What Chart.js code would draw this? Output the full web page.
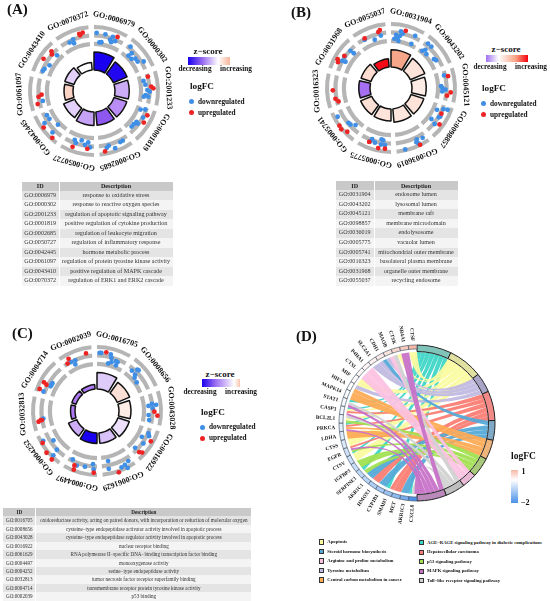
<!DOCTYPE html>
<html>
<head>
<meta charset="utf-8">
<script src="https://cdn.jsdelivr.net/npm/chart.js@4"></script>
<style>
  html, body { margin: 0; padding: 0; background: #fff; }
  body { position: relative; width: 550px; height: 601px; overflow: hidden; font-family: "Liberation Serif", serif; color: #111; }
  canvas { position: absolute; }
  .t { position: absolute; white-space: nowrap; line-height: 1; }
  .bar { position: absolute; }
  .dot { position: absolute; border-radius: 50%; }
  .box { position: absolute; border: 0.7px solid #333; box-sizing: border-box; }
  table { position: absolute; border-collapse: separate; border-spacing: 1px 0; table-layout: fixed; color: #333; }
  td, th { padding: 0; text-align: center; white-space: nowrap; overflow: hidden; font-weight: normal; }
  th { font-weight: bold; background: #c9c9c9; color: #222; }
  tr:nth-child(odd) td { background: #f4f4f4; }
  tr:nth-child(even) td { background: #e4e4e4; }
</style>
</head>
<body>
<canvas id="circleA" width="200" height="200" style="left:-6px;top:-9px"></canvas>
<canvas id="circleB" width="200" height="200" style="left:291px;top:-12px"></canvas>
<canvas id="circleC" width="200" height="200" style="left:-3px;top:311px"></canvas>
<canvas id="chordD" width="220" height="220" style="left:307px;top:313px"></canvas>
<script>
// panel A
const aTerms = ['GO:0006979','GO:0000302','GO:2001233','GO:0001819','GO:0002685','GO:0050727','GO:0042445','GO:0061097','GO:0043410','GO:0070372'];
const aDesc = ['response to oxidative stress','response to reactive oxygen species','regulation of apoptotic signaling pathway','positive regulation of cytokine production','regulation of leukocyte migration','regulation of inflammatory response','hormone metabolic process','regulation of protein tyrosine kinase activity','positive regulation of MAPK cascade','regulation of ERK1 and ERK2 cascade'];
const aZ = [-3,-2.9,-.8,-1.1,-1.7,-.9,-.45,.7,-.45,0];
const aCount = [12,10,9.5,9,9,9,8,6,6.5,5];
// gene points: [angle in the circle, logFC]
const aDown = [[2.6,.4],[6.3,-1.9],[8.6,-1.8],[11.4,.3],[17.4,-.7],[19.2,.2],[19.4,-1.2],[23,-.6],[39.5,.2],[45,-.8],[44.4,-1.8],[49.4,-1.8],[52,-1],[56,-1],[59.3,.3],[78.5,-1.5],[83,-1.2],[89,-.8],[90.7,-.2],[94.5,-1.2],[96.5,-1.6],[96,-.5],[111.7,-1.6],[109.8,-.5],[118.4,-.2],[126,-1],[130,-1.2],[133.4,-1.2],[126.7,-.5],[150,.2],[152.8,.2],[159.7,1.1],[165,0],[167.3,.4],[201.5,-1],[199.3,-.4],[194,-1.4],[189.6,-.5],[186.4,-1.2],[184,0],[242.8,-.9],[238,-1],[227,-1.8],[237,.6],[225,.5],[259,-1.1],[-46,-1.3],[-60,-1.3],[-66,-.6],[-68.5,-.4],[-22,-.2],[-26.7,-.6],[-22.7,-1.2]];
const aUp = [[23.5,.6],[75,-.2],[85.6,.2],[87.4,.7],[114.5,.5],[122.4,.6],[169.6,1.2],[186.6,.4],[201,.8],[234,1.4],[221.7,1.5],[266,-1],[264,-.2],[256.9,.3],[-47,.4],[-49,-.2],[-57.5,.8],[-14.5,.6],[-11,.7],[-14,.2]];

// panel B
const bTerms = ['GO:0031904','GO:0043202','GO:0045121','GO:0098857','GO:0036019','GO:0005775','GO:0005741','GO:0016323','GO:0031968','GO:0055037'];
const bDesc = ['endosome lumen','lysosomal lumen','membrane raft','membrane microdomain','endolysosome','vacuolar lumen','mitochondrial outer membrane','basolateral plasma membrane','organelle outer membrane','recycling endosome'];
const bZ = [1.4,.45,.3,.45,.4,.45,.5,-1.4,.55,2.9];
const bCount = [11.5,10.5,9.5,9,9,8,8,7.5,7,5.5];
const bDown = [[10,.2],[12.2,-.2],[5.5,-.8],[9.9,-.9],[7.6,-1.4],[3.9,-1.8],[8.9,-2.2],[24.9,.2],[24.8,-2],[39.8,.3],[44.3,.3],[40,-2],[42,-1.3],[46.4,-1.9],[56.2,-1.2],[58.5,-.9],[76.7,-.5],[88,-1.6],[90,-1.3],[93.8,-1.3],[91.8,-.5],[115.4,-1.4],[112,0],[111,1],[120,.1],[121.5,-.1],[127.5,-1.4],[129.5,0],[147.6,.6],[153.3,.2],[154.9,.8],[153.6,1.3],[167,1.6],[200.2,-.5],[201.5,.2],[190.4,-1.1],[188.4,-.9],[196.4,.1],[186,.2],[190,.2],[241.7,1],[230.7,-.4],[228,-.5],[223.7,-1.3],[-47.5,-.4],[-47,-1.4],[-56,-.1],[-61,-.2],[-60,-1],[-11,-.8],[-18.6,-1.4],[-28.6,-.4]];
const bUp = [[14.5,.6],[78.3,.4],[94.2,.8],[97.8,0],[117,0],[126.9,1],[152.9,1.8],[202,.4],[192,1.2],[185.7,1.1],[233.8,1.8],[230.3,2],[225,1.3],[267.7,.4],[259,0],[255.6,-.6],[-55.5,0],[-61.7,1],[-64,.6],[-10.9,.6],[-12.8,.2],[-28,-.1]];

// panel C
const cTerms = ['GO:0016705','GO:0008656','GO:0043028','GO:0016922','GO:0061629','GO:0004497','GO:0004252','GO:0032813','GO:0004714','GO:0002039'];
const cDesc = ['oxidoreductase activity, acting on paired donors, with incorporation or reduction of molecular oxygen','cysteine\u2212type endopeptidase activator activity involved in apoptotic process','cysteine\u2212type endopeptidase regulator activity involved in apoptotic process','nuclear receptor binding','RNA polymerase II\u2212specific DNA\u2212binding transcription factor binding','monooxygenase activity','serine\u2212type endopeptidase activity','tumor necrosis factor receptor superfamily binding','transmembrane receptor protein tyrosine kinase activity','p53 binding'];
const cZ = [-.5,.5,.3,-.3,-.6,-3,-.8,-1.3,-1.3,-1.3];
const cCount = [11,9,8,8,7,7,6,3,3,3];
const cDown = [[2.6,.4],[4.3,.4],[13.7,.4],[15.2,-.4],[20.7,-.8],[22.8,-.9],[16.5,-1.4],[13.2,-1.9],[22.5,-1.8],[40.9,-.8],[44.3,.3],[45.7,.4],[46.3,-1],[48.6,-1.6],[54.2,-1.9],[84.4,-1.2],[82.7,-.3],[87.2,-.2],[94.5,-1.2],[99.9,-.9],[84,.7],[120,-1.2],[113.6,-.1],[115.8,.3],[134,-.9],[125,0],[167.5,-1.3],[148,.6],[152.6,1],[151.7,2],[156.4,1.2],[168.5,.6],[206.6,-.6],[200.3,.4],[192.2,.1],[184.3,-.8],[183.3,.5],[241,1.2],[236,-1],[226,-.2],[224.6,1.4],[262,-.6],[-58,-1],[-62,-1],[-60,-1],[-70,.1],[-23.3,-.4],[-25,-1.3],[-28,-.3]];
const cUp = [[9,.7],[90.7,.2],[94.4,1],[119.4,1.3],[134.3,.6],[132.6,1.2],[160.4,2.1],[202.5,.6],[201.6,1.6],[183,1.3],[239.6,1.6],[230.4,2.2],[223,2.4],[259.6,.7],[260.8,.1],[260.6,-.2],[-61.6,.9],[-62.6,.1],[-69,1.2],[-10.8,.5],[-28.6,.7],[-31.8,-.2]];

// panel D
const genes = ['CTSF','NR4A1','CTSK','MAOB','CDH1','SLC2A1','P4HA1','CTSL','MIF','HIF1A','MAPK14','STAT1','CASP3','BCL2L1','PRKCA','LDHA','CTSS','EGFR','CTSV','IGFBP3','SERPINE1','AKR1C1','HMOX1','CYP1B1','SMAD3','MET','AKR1C3','CXCL8'];
const geneLogFC = [1,.75,.55,.4,.3,.2,.15,.1,.05,0,-.05,-.1,-.15,-.2,-.3,-.35,-.4,-.5,-.55,-.6,-.7,-.8,-.9,-1,-1.1,-1.25,-1.5,-2];
const pathways = ['AGE\u2212RAGE signaling pathway in diabetic complications','Apoptosis','Tyrosine metabolism','Hepatocellular carcinoma','Steroid hormone biosynthesis','Central carbon metabolism in cancer','p53 signaling pathway','Arginine and proline metabolism','Toll\u2212like receptor signaling pathway','MAPK signaling pathway'];
const pathColors = ['#3fd6c6','#fbfba0','#c2bbe2','#fb7d74','#55aad8','#fdab55','#a2e052','#fcc2e2','#d2d2d2','#c873c8'];
const pathRing = ['#80c3b9','#e0e0a0','#a9a5c6','#f28b88','#80a9c6','#f0b57a','#a9c97a','#e8b9d5','#bebebe','#b98ab9'];
// which pathways (index into pathways) each gene feeds, same order as genes
const geneLinks = [[1],[9],[1,8],[7,2],[4,2],[2],[7],[7],[1],[2,5],[5],[0,8,9],[0,1,3,9],[8,1,6],[0,3,5,9],[5],[1],[3,9,6,0],[1],[6],[0,6],[4],[3],[4],[0,3],[3],[4],[0,8,9]];

const legendLeft = [1,4,7,2,5];
const legendRight = [0,3,6,9,8];

function mix(a, b, t) { return a.map((v, i) => Math.round(v + (b[i] - v) * t)); }
function ramp(stops, v) {
  if (v <= stops[0][0]) return 'rgb(' + stops[0][1] + ')';
  for (let i = 1; i < stops.length; i++) {
    if (v <= stops[i][0]) {
      const t = (v - stops[i - 1][0]) / (stops[i][0] - stops[i - 1][0]);
      return 'rgb(' + mix(stops[i - 1][1], stops[i][1], t) + ')';
    }
  }
  return 'rgb(' + stops[stops.length - 1][1] + ')';
}
const zStops = [[-3,[26,0,240]],[-1.5,[160,100,240]],[0,[255,255,255]],[1.5,[247,160,130]],[3,[245,0,15]]];
const fcStops = [[-2,[74,144,232]],[0,[255,255,255]],[1,[248,184,168]]];

// doughnut arcs get their real radii and gaps here
const ringShape = {
  id: 'ringShape',
  afterDatasetsUpdate(chart) {
    chart.data.datasets.forEach((ds, i) => {
      if (ds.rIn === undefined) return;
      chart.getDatasetMeta(i).data.forEach((arc, k) => {
        arc.innerRadius = Array.isArray(ds.rIn) ? ds.rIn[k] : ds.rIn;
        arc.outerRadius = Array.isArray(ds.rOut) ? ds.rOut[k] : ds.rOut;
        if (ds.gap) {
          arc.startAngle += ds.gap;
          arc.endAngle -= ds.gap;
          arc.circumference = arc.endAngle - arc.startAngle;
        }
      });
    });
  }
};

function drawCircle(id, terms, z, count, down, up, hole) {
  const gap = 2.5 * Math.PI / 180;
  const toXY = p => {
    const a = p[0] * Math.PI / 180, r = 56 + p[1] * 4;
    return { x: r * Math.sin(a), y: r * Math.cos(a) };
  };
  const ones = terms.map(() => 1);
  const track = (rIn, rOut) => ({ type: 'doughnut', data: ones, rIn, rOut, gap, backgroundColor: '#b5b5b5', borderWidth: 0, rotation: -2.5 });
  new Chart(document.getElementById(id), {
    type: 'scatter',
    data: {
      labels: terms,
      datasets: [
        { data: up.map(toXY), backgroundColor: '#ee2424', pointRadius: 2.4, borderWidth: 0 },
        { data: down.map(toXY), backgroundColor: '#3f8fe6', pointRadius: 2.4, borderWidth: 0 },
        track(62, 66), track(53.5, 57.7), track(45, 49.2),
        { type: 'doughnut', data: ones, rIn: hole, rOut: count.map(c => hole + c * 1.5), gap, backgroundColor: z.map(v => ramp(zStops, v)), borderColor: '#111', borderWidth: 1.5, rotation: -2.5 }
      ]
    },
    options: {
      responsive: false,
      animation: false,
      layout: { padding: 0 },
      plugins: { legend: { display: false }, tooltip: { enabled: false } },
      scales: {
        x: { display: false, min: -95, max: 95 },
        y: { display: false, min: -95, max: 95 }
      }
    },
    plugins: [ringShape, {
      id: 'termLabels',
      afterDraw(chart) {
        const ctx = chart.ctx;
        ctx.save();
        ctx.font = 'bold 8px "Liberation Serif"';
        ctx.fillStyle = '#111';
        ctx.textAlign = 'center';
        ctx.textBaseline = 'middle';
        terms.forEach((t, i) => {
          const a = (15.5 + 36 * i) * Math.PI / 180;
          ctx.save();
          ctx.translate(100 + 74.5 * Math.sin(a), 100 - 74.5 * Math.cos(a));
          ctx.rotate(a);
          ctx.fillText(t, 0, 0);
          ctx.restore();
        });
        ctx.restore();
      }
    }]
  });
}

drawCircle('circleA', aTerms, aZ, aCount, aDown, aUp, 21);
drawCircle('circleB', bTerms, bZ, bCount, bDown, bUp, 21);
drawCircle('circleC', cTerms, cZ, cCount, cDown, cUp, 22);

// chord panel
const pathCounts = pathways.map((p, i) => geneLinks.flat().filter(v => v === i).length);
const totalLinks = pathCounts.reduce((a, b) => a + b, 0);
const revGenes = genes.slice().reverse();
const revFC = geneLogFC.slice().reverse();
const ringData = pathCounts.concat(revGenes.map(() => totalLinks / genes.length));

const chordRibbons = {
  id: 'chordRibbons',
  beforeDatasetsDraw(chart) {
    const ctx = chart.ctx, arcs = chart.getDatasetMeta(0).data;
    const cx = arcs[0].x, cy = arcs[0].y, r = 71, k0 = 0.3;
    const np = pathways.length, used = pathways.map(() => 0), ribbons = [];
    const pt = a => [r * Math.cos(a), r * Math.sin(a)];
    // edge from angle a to angle b, bent towards the middle
    const edge = (a, b) => {
      const A = pt(a), B = pt(b);
      ctx.quadraticCurveTo(cx + k0 * (A[0] + B[0]) / 2, cy + k0 * (A[1] + B[1]) / 2, cx + B[0], cy + B[1]);
    };
    geneLinks.forEach((links, g) => {
      const ga = arcs[np + genes.length - 1 - g], w = (ga.endAngle - ga.startAngle) / links.length;
      links.forEach((p, k) => {
        const pa = arcs[p], pw = (pa.endAngle - pa.startAngle) / pathCounts[p];
        const p0 = pa.startAngle + used[p] * pw;
        used[p]++;
        ribbons.push({ p, a1: ga.endAngle - k * w, a0: ga.endAngle - (k + 1) * w, p0, p1: p0 + pw });
      });
    });
    ctx.save();
    ribbons.sort((a, b) => a.p - b.p).forEach(b => {
      ctx.beginPath();
      ctx.arc(cx, cy, r, b.a1, b.a0, true);
      edge(b.a0, b.p1);
      ctx.arc(cx, cy, r, b.p1, b.p0, true);
      edge(b.p0, b.a1);
      ctx.closePath();
      ctx.fillStyle = pathColors[b.p];
      ctx.globalAlpha = 0.95;
      ctx.fill();
    });
    ctx.restore();
  },
  afterDraw(chart) {
    const ctx = chart.ctx;
    ctx.save();
    ctx.font = 'bold 5.2px "Liberation Serif"';
    ctx.fillStyle = '#111';
    ctx.textAlign = 'right';
    ctx.textBaseline = 'middle';
    genes.forEach((g, i) => {
      const a = (i + 0.5) * Math.PI / genes.length;
      ctx.save();
      ctx.translate(110 - 82 * Math.sin(a), 110 - 82 * Math.cos(a));
      ctx.rotate(Math.PI / 2 - a);
      ctx.fillText(g, 0, 0);
      ctx.restore();
    });
    ctx.restore();
  }
};

new Chart(document.getElementById('chordD'), {
  type: 'doughnut',
  data: {
    labels: pathways.concat(revGenes),
    datasets: [{
      data: ringData,
      rIn: ringData.map((v, i) => i < pathways.length ? 71.5 : 74),
      rOut: 78,
      backgroundColor: pathRing.concat(revFC.map(v => ramp(fcStops, v))),
      borderColor: ringData.map((v, i) => i < pathways.length ? '#222' : '#4a5a6a'),
      borderWidth: ringData.map((v, i) => i < pathways.length ? 1 : 0.7)
    }]
  },
  options: {
    responsive: false,
    animation: false,
    layout: { padding: 0 },
    plugins: { legend: { display: false }, tooltip: { enabled: false } }
  },
  plugins: [ringShape, chordRibbons]
});

// html text, legends and tables
function txt(x, y, s, size, bold, center) {
  const d = document.createElement('div');
  d.className = 't';
  d.textContent = s;
  d.style.left = x + 'px';
  d.style.top = y + 'px';
  d.style.fontSize = size + 'px';
  d.style.fontWeight = bold ? 'bold' : 'normal';
  d.style.transform = center ? 'translate(-50%,-50%)' : 'translateY(-50%)';
  document.body.appendChild(d);
}
function shape(cls, x, y, w, h, bg) {
  const d = document.createElement('div');
  d.className = cls;
  d.style.cssText = 'left:' + x + 'px;top:' + y + 'px;width:' + w + 'px;height:' + h + 'px;background:' + bg;
  document.body.appendChild(d);
}
function goLegend(barX, barY, barW, barH, grad, decX, incX, capY, headX, headY, logX, logY) {
  txt(headX, headY, 'z\u2212score', 9, true, true);
  shape('bar', barX, barY, barW, barH, grad);
  txt(decX, capY, 'decreasing', 7.3, true, true);
  txt(incX, capY, 'increasing', 7.3, true, true);
  txt(logX, logY, 'logFC', 9.2, true);
  shape('dot', logX - 1.5, logY + 12, 5, 5, '#3f8fe6');
  shape('dot', logX - 1.5, logY + 23, 5, 5, '#ee2424');
  txt(logX + 8, logY + 14.5, 'downregulated', 7.3, true);
  txt(logX + 8, logY + 25.5, 'upregulated', 7.3, true);
}
goLegend(188, 57, 42, 7.5, 'linear-gradient(90deg,#1a00f0,#9a6cf0 35%,#ffffff 72%,#f7b59a)', 195, 236, 68.5, 208, 51, 190, 87);
goLegend(486, 54.5, 42, 7.5, 'linear-gradient(90deg,#a070f0,#ffffff 30%,#f7a585 70%,#f5000f)', 490, 531, 66.7, 506, 49, 482, 89);
goLegend(202, 379, 37.5, 7.5, 'linear-gradient(90deg,#1a00f0,#9a6cf0 35%,#ffffff 85%,#f7c5ae)', 200, 241, 392.3, 220, 374, 201, 412.7);

txt(7, 9, '(A)', 15, true);
txt(291, 12, '(B)', 15, true);
txt(12, 333, '(C)', 15, true);
txt(296, 336, '(D)', 15, true);

function goTable(x, y, w1, w2, headH, rowH, font, ids, descs) {
  const t = document.createElement('table');
  t.style.left = x + 'px';
  t.style.top = y + 'px';
  t.style.width = (w1 + w2 + 3) + 'px';
  t.style.fontSize = font + 'px';
  let html = '<colgroup><col style="width:' + w1 + 'px"><col style="width:' + w2 + 'px"></colgroup>';
  html += '<tr style="height:' + headH + 'px"><th>ID</th><th>Description</th></tr>';
  ids.forEach((id, i) => {
    html += '<tr style="height:' + rowH + 'px;line-height:' + rowH + 'px"><td>' + id + '</td><td>' + descs[i] + '</td></tr>';
  });
  t.innerHTML = html;
  document.body.appendChild(t);
}
goTable(21, 181.5, 36.5, 113, 9, 9.55, 6.1, aTerms, aDesc);
goTable(335, 181, 37.5, 83, 9, 9.6, 6.1, bTerms, bDesc);
goTable(2.3, 507.7, 32, 215, 8.8, 8.4, 5.1, cTerms, cDesc);

// pathway legend
legendLeft.forEach((p, i) => {
  const y = 542 + i * 9.5;
  shape('box', 319, y - 2.6, 5.2, 5.2, pathColors[p]);
  txt(327.3, y, pathways[p], 4.7, true);
});
legendRight.forEach((p, i) => {
  const y = 542.7 + i * 9.5;
  shape('box', 419, y - 2.6, 5.2, 5.2, pathColors[p]);
  txt(427, y, pathways[p], 4.7, true);
});

// logFC bar for the chord
txt(511, 456.7, 'logFC', 9.5, true);
shape('bar', 511, 470, 7.3, 33.3, 'linear-gradient(180deg,#f8b8a8,#ffffff 30%,#4a90e8)');
txt(521.5, 471.7, '1', 8, true);
txt(521, 503.3, '\u22122', 8, true);
</script>
</body>
</html>
